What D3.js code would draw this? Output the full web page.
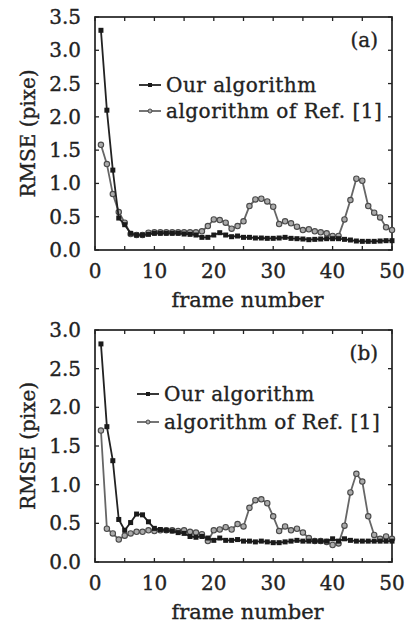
<!DOCTYPE html>
<html>
<head>
<meta charset="utf-8">
<script src="https://cdn.jsdelivr.net/npm/d3@7"></script>
<style>
  html, body { margin: 0; padding: 0; background: #fff; }
  svg text { font-family: "DejaVu Serif", serif; fill: #222; stroke: #222; stroke-width: 0.35px; }
</style>
</head>
<body>
<svg id="svg" width="411" height="628"></svg>
<script>
// frame numbers (x axis)
const frames = [1,2,3,4,5,6,7,8,9,10,11,12,13,14,15,16,17,18,19,20,
  21,22,23,24,25,26,27,28,29,30,31,32,33,34,35,36,37,38,39,40,
  41,42,43,44,45,46,47,48,49,50];

// panel (a)
const ourA = [3.30, 2.10, 1.20, 0.48, 0.38, 0.25, 0.225, 0.225, 0.235, 0.25,
  0.25, 0.25, 0.25, 0.25, 0.24, 0.235, 0.225, 0.19, 0.19, 0.225,
  0.26, 0.225, 0.20, 0.21, 0.19, 0.19, 0.18, 0.18, 0.175, 0.175,
  0.18, 0.19, 0.175, 0.17, 0.165, 0.155, 0.16, 0.165, 0.17, 0.17,
  0.17, 0.16, 0.15, 0.135, 0.13, 0.13, 0.13, 0.135, 0.14, 0.14];
const refA = [1.58, 1.29, 0.84, 0.57, 0.41, 0.24, 0.225, 0.225, 0.26, 0.265,
  0.265, 0.265, 0.265, 0.265, 0.265, 0.265, 0.265, 0.28, 0.36, 0.46,
  0.45, 0.41, 0.32, 0.36, 0.43, 0.66, 0.76, 0.77, 0.73, 0.65,
  0.39, 0.43, 0.40, 0.35, 0.30, 0.31, 0.28, 0.265, 0.25, 0.21,
  0.21, 0.46, 0.75, 1.07, 1.04, 0.66, 0.56, 0.49, 0.34, 0.30];

// panel (b)
const ourB = [2.82, 1.75, 1.31, 0.55, 0.41, 0.51, 0.62, 0.61, 0.52, 0.435,
  0.42, 0.41, 0.40, 0.38, 0.37, 0.33, 0.32, 0.33, 0.31, 0.28,
  0.31, 0.28, 0.28, 0.29, 0.27, 0.27, 0.26, 0.27, 0.26, 0.25,
  0.25, 0.26, 0.27, 0.28, 0.27, 0.27, 0.27, 0.27, 0.27, 0.30,
  0.27, 0.30, 0.28, 0.27, 0.27, 0.27, 0.27, 0.27, 0.27, 0.27];
const refB = [1.70, 0.43, 0.37, 0.29, 0.34, 0.37, 0.39, 0.39, 0.41, 0.40,
  0.41, 0.41, 0.41, 0.40, 0.41, 0.39, 0.38, 0.36, 0.27, 0.41,
  0.42, 0.45, 0.42, 0.49, 0.46, 0.70, 0.80, 0.81, 0.76, 0.59,
  0.40, 0.46, 0.41, 0.43, 0.38, 0.31, 0.27, 0.27, 0.26, 0.22,
  0.24, 0.47, 0.90, 1.14, 1.04, 0.59, 0.35, 0.30, 0.33, 0.30];

const seriesNames = ["Our algorithm", "algorithm of Ref. [1]"];
const xTicks = [0, 10, 20, 30, 40, 50];
const xMinor = [0, 5, 10, 15, 20, 25, 30, 35, 40, 45, 50];
const yTicksA = [0, 0.5, 1.0, 1.5, 2.0, 2.5, 3.0, 3.5];
const yTicksB = [0, 0.5, 1.0, 1.5, 2.0, 2.5, 3.0];

const svg = d3.select('#svg');

function panel(cfg) {
  const g = svg.append('g');
  const x = d3.scaleLinear().domain([0, 50]).range([95, 392]);
  const y = d3.scaleLinear().domain([0, cfg.ymax]).range([cfg.bottom, cfg.top]);
  const tick = 4;

  // frame box
  g.append('rect')
    .attr('x', x(0)).attr('y', y(cfg.ymax))
    .attr('width', x(50) - x(0)).attr('height', y(0) - y(cfg.ymax))
    .attr('fill', 'none').attr('stroke', '#222').attr('stroke-width', 1.7);

  // inward ticks on every side
  xMinor.forEach(v => {
    g.append('line').attr('x1', x(v)).attr('x2', x(v))
      .attr('y1', y(0)).attr('y2', y(0) - tick).attr('stroke', '#222').attr('stroke-width', 1.3);
    g.append('line').attr('x1', x(v)).attr('x2', x(v))
      .attr('y1', y(cfg.ymax)).attr('y2', y(cfg.ymax) + tick).attr('stroke', '#222').attr('stroke-width', 1.3);
  });
  cfg.yTicks.forEach(v => {
    g.append('line').attr('x1', x(0)).attr('x2', x(0) + tick)
      .attr('y1', y(v)).attr('y2', y(v)).attr('stroke', '#222').attr('stroke-width', 1.3);
    g.append('line').attr('x1', x(50)).attr('x2', x(50) - tick)
      .attr('y1', y(v)).attr('y2', y(v)).attr('stroke', '#222').attr('stroke-width', 1.3);
  });

  // tick labels
  g.selectAll('.xl').data(xTicks).enter().append('text')
    .attr('x', d => x(d)).attr('y', y(0) + 28)
    .attr('text-anchor', 'middle').attr('font-size', 20)
    .text(d => d);
  g.selectAll('.yl').data(cfg.yTicks).enter().append('text')
    .attr('x', 81).attr('y', d => y(d) + 7)
    .attr('text-anchor', 'end').attr('font-size', 20)
    .text(d => d.toFixed(1));

  // axis titles
  g.append('text')
    .attr('x', (x(0) + x(50)) / 2 + 4).attr('y', y(0) + 57)
    .attr('text-anchor', 'middle').attr('font-size', 21)
    .text('frame number');
  g.append('text')
    .attr('transform', `translate(35,${(y(0) + y(cfg.ymax)) / 2}) rotate(-90)`)
    .attr('text-anchor', 'middle').attr('font-size', 20)
    .text('RMSE (pixe)');

  // panel tag
  g.append('text')
    .attr('x', 378).attr('y', y(cfg.ymax) + 30)
    .attr('text-anchor', 'end').attr('font-size', 20)
    .text(cfg.tag);

  const line = d3.line().x((d, i) => x(frames[i])).y(d => y(d));

  // reference algorithm (grey, circles)
  g.append('path').attr('d', line(cfg.ref))
    .attr('fill', 'none').attr('stroke', '#666').attr('stroke-width', 1.8);
  g.selectAll('.rc').data(cfg.ref).enter().append('circle')
    .attr('cx', (d, i) => x(frames[i])).attr('cy', d => y(d)).attr('r', 2.7)
    .attr('fill', '#aaa').attr('stroke', '#4a4a4a').attr('stroke-width', 1.1);

  // our algorithm (black, squares)
  g.append('path').attr('d', line(cfg.our))
    .attr('fill', 'none').attr('stroke', '#222').attr('stroke-width', 1.8);
  g.selectAll('.oc').data(cfg.our).enter().append('rect')
    .attr('x', (d, i) => x(frames[i]) - 2.5).attr('y', d => y(d) - 2.5)
    .attr('width', 5).attr('height', 5).attr('fill', '#1a1a1a');

  // legend
  const lx = cfg.legX;
  [0, 1].forEach(k => {
    const ly = cfg.legY + k * cfg.legGap;
    const col = k === 0 ? '#222' : '#666';
    g.append('line').attr('x1', lx).attr('x2', lx + 22)
      .attr('y1', ly).attr('y2', ly).attr('stroke', col).attr('stroke-width', 1.8);
    if (k === 0) {
      g.append('rect').attr('x', lx + 11 - 2).attr('y', ly - 2)
        .attr('width', 4).attr('height', 4).attr('fill', '#1a1a1a');
    } else {
      g.append('circle').attr('cx', lx + 11).attr('cy', ly).attr('r', 2)
        .attr('fill', '#aaa').attr('stroke', '#4a4a4a').attr('stroke-width', 1);
    }
    g.append('text').attr('x', lx + 27).attr('y', ly + 7)
      .attr('font-size', 20).attr('letter-spacing', 0.5).text(seriesNames[k]);
  });
}

panel({ ymax: 3.5, top: 17, bottom: 250, yTicks: yTicksA, our: ourA, ref: refA,
  tag: '(a)', legX: 139, legY: 85, legGap: 26 });
panel({ ymax: 3.0, top: 330, bottom: 562, yTicks: yTicksB, our: ourB, ref: refB,
  tag: '(b)', legX: 137, legY: 394, legGap: 28 });
</script>
</body>
</html>
